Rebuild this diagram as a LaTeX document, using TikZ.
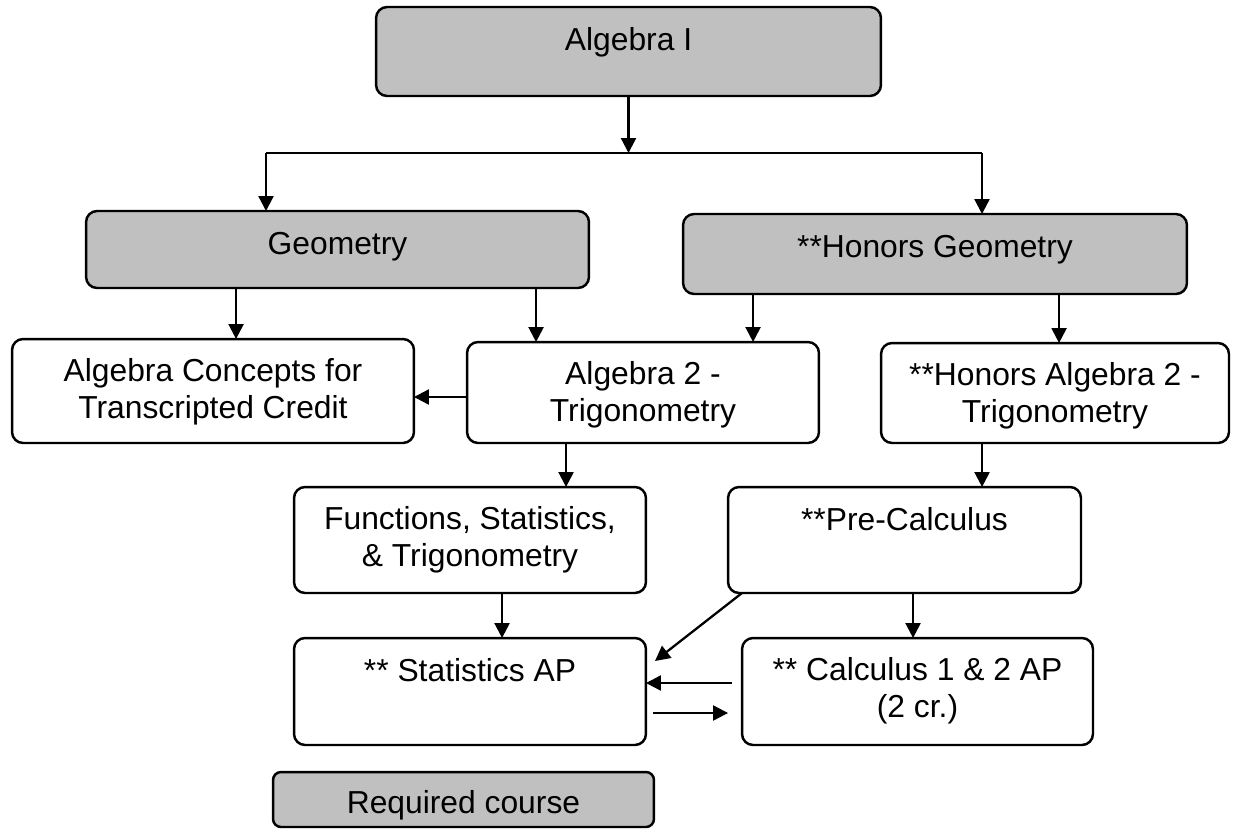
\documentclass[tikz,border=0pt]{standalone}
\usepackage{fontspec}
\setmainfont{Liberation Sans}
\usetikzlibrary{arrows.meta}

\definecolor{reqgray}{RGB}{192,192,192}

\tikzset{
    course/.style={draw, line width=1.4pt, rounded corners=0.22cm, inner sep=0pt, outer sep=0pt},
    txt/.style={anchor=base, yshift=-0.86cm, align=center, inner sep=0pt,
        font=\fontsize{18.1pt}{20.6pt}\selectfont},
    txttwo/.style={txt, yshift=-0.72cm},
    arr/.style={line width=1.3pt, -{Triangle[length=0.3cm, width=0.3cm]}},
}

\begin{document}
\begin{tikzpicture}[x=0.02cm, y=-0.02cm]
    \useasboundingbox (0,0) rectangle (1233,836);

    \node[course, fill=reqgray, minimum width=10.1cm, minimum height=1.78cm,
        label={[txt]north:Algebra I}] (alg1) at (628.5,51.5) {};
    \node[course, fill=reqgray, minimum width=10.06cm, minimum height=1.54cm,
        label={[txt]north:Geometry}] (geom) at (337.5,249.5) {};
    \node[course, fill=reqgray, minimum width=10.08cm, minimum height=1.6cm,
        label={[txt]north:**Honors Geometry}] (hgeom) at (935,254) {};

    \node[course, minimum width=8.04cm, minimum height=2.08cm,
        label={[txttwo]north:{Algebra Concepts for\\Transcripted Credit}}] (concepts) at (213,391) {};
    \node[course, minimum width=7.04cm, minimum height=2.02cm,
        label={[txttwo]north:{Algebra 2 -\\Trigonometry}}] (alg2) at (643,392.5) {};
    \node[course, minimum width=6.96cm, minimum height=2.0cm,
        label={[txttwo]north:{**Honors Algebra 2 -\\Trigonometry}}] (halg2) at (1055,393) {};

    \node[course, minimum width=7.04cm, minimum height=2.12cm,
        label={[txttwo]north:{Functions, Statistics,\\\& Trigonometry}}] (fst) at (470,540) {};
    \node[course, minimum width=7.06cm, minimum height=2.12cm,
        label={[txt]north:**Pre-Calculus}] (precalc) at (904.5,540) {};

    \node[course, minimum width=7.04cm, minimum height=2.14cm,
        label={[txt]north:** Statistics AP}] (stats) at (470,691.5) {};
    \node[course, minimum width=7.02cm, minimum height=2.14cm,
        label={[txttwo]north:{** Calculus 1 \& 2 AP\\(2 cr.)}}] (calc) at (917.5,691.5) {};

    \node[course, fill=reqgray, rounded corners=0.16cm, minimum width=7.62cm, minimum height=1.1cm,
        label={[txt, yshift=0.04cm]north:Required course}] (req) at (463.5,799.5) {};

    \coordinate (jl) at (266,153);
    \coordinate (jr) at (982,153);
    \path (geom.south west) ++(150,0) coordinate (g1) ++(300,0) coordinate (g2);
    \path (hgeom.south west) ++(70,0) coordinate (h1) ++(306,0) coordinate (h2);
    \path ([yshift=-0.09cm]alg2.west) coordinate (a0);
    \path (alg2.south west) ++(99,0) coordinate (a1);
    \path (halg2.south west) ++(101,0) coordinate (a2);
    \path (fst.south west) ++(208,0) coordinate (f1);
    \path (precalc.south west) ++(185,0) coordinate (p1);

    \draw[arr] (alg1) -- (alg1 |- jl);
    \draw[line width=1.3pt] (jl) -- (jr);
    \draw[arr] (jl) -- (jl |- geom.north);
    \draw[arr] (jr) -- (jr |- hgeom.north);

    \draw[arr] (g1) -- (g1 |- concepts.north);
    \draw[arr] (g2) -- (g2 |- alg2.north);
    \draw[arr] (h1) -- (h1 |- alg2.north);
    \draw[arr] (h2) -- (h2 |- halg2.north);
    \draw[arr] (a0) -- (a0 -| concepts.east);

    \draw[arr] (a1) -- (a1 |- fst.north);
    \draw[arr] (a2) -- (a2 |- precalc.north);
    \draw[arr] (f1) -- (f1 |- stats.north);
    \draw[arr] (p1) -- (p1 |- calc.north);

    \draw[arr] ([xshift=0.28cm]precalc.south west) -- ([xshift=0.18cm, yshift=0.61cm]stats.east);
    \draw[arr] ([xshift=-0.2cm, yshift=0.17cm]calc.west) -- ([yshift=0.17cm]stats.east);
    \draw[arr] ([xshift=0.14cm, yshift=-0.43cm]stats.east) -- ([xshift=-0.28cm, yshift=-0.43cm]calc.west);
\end{tikzpicture}
\end{document}
